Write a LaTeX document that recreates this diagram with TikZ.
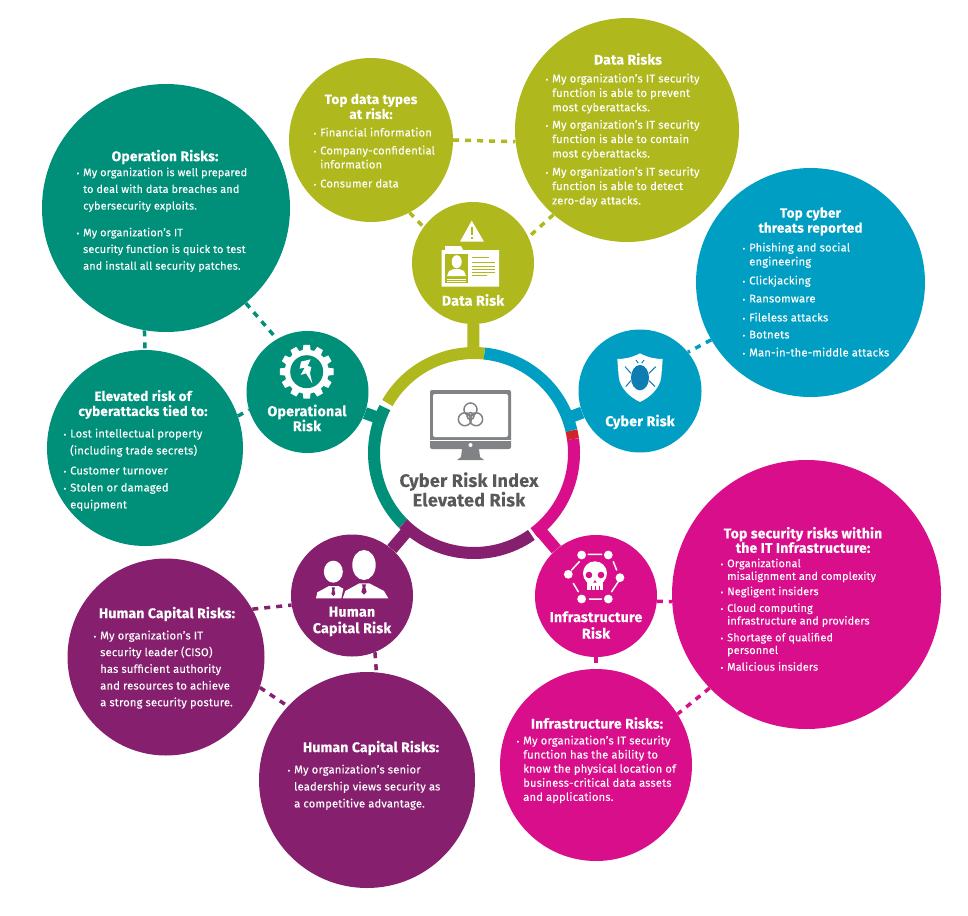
\documentclass[tikz,border=0pt]{standalone}
\usepackage{fontspec}
\setmainfont[LetterSpace=1.5,FakeBold=0.12,BoldFeatures={FakeBold=0.25}]{Fira Sans}
\definecolor{olv}{HTML}{AFB91E}
\definecolor{blu}{HTML}{009EC2}
\definecolor{tea}{HTML}{00907A}
\definecolor{pur}{HTML}{861F6E}
\definecolor{mag}{HTML}{D90E8A}
\definecolor{rdd}{HTML}{D2232A}
\definecolor{gry}{HTML}{808285}
\definecolor{dgr}{HTML}{58595B}
\definecolor{bug}{HTML}{0D7DB3}
\newcommand{\bl}{\llap{{\fontsize{8}{8}\selectfont\textbullet}\hspace{4pt}}}
\tikzset{
  disc/.style={circle,inner sep=0pt,minimum size=#1,draw=none},
  body/.style={anchor=north west,inner sep=0pt,text=white,align=left,font=\fontsize{11.2}{#1}\selectfont},
  bodys/.style={anchor=north west,inner sep=0pt,text=white,align=left,font=\fontsize{10.85}{#1}\selectfont},
  head/.style={inner sep=0pt,text=white,align=center,font=\bfseries\fontsize{13.9}{#1}\selectfont},
  heads/.style={inner sep=0pt,text=white,align=center,font=\bfseries\fontsize{13.4}{#1}\selectfont},
  lab/.style={inner sep=0pt,text=white,align=center,font=\bfseries\fontsize{14.2}{#1}\selectfont},
  ringarc/.style={line width=12pt,line cap=butt},
  stub/.style={line width=12pt,line cap=butt},
  dot/.style={line width=3.5pt,dash pattern=on 6pt off 6pt},
  zoomed/.style={x=0.3333pt,y=-0.3333pt},
}
\begin{document}
\begin{tikzpicture}[x=1pt,y=-1pt]
\useasboundingbox (0,0) rectangle (968,915);
% hub and risk discs
\node[disc=200pt] (hub) at (474,453) {};
\node[disc=122pt,fill=olv] (dr) at (473,263) {};
\node[disc=123pt,fill=blu] (cr) at (640,391) {};
\node[disc=122pt,fill=tea] (or) at (307.5,392) {};
\node[disc=122pt,fill=pur] (hr) at (352,595.5) {};
\node[disc=122pt,fill=mag] (ir) at (596,596) {};
% outer discs
\node[disc=164pt,fill=olv] (types) at (371,140) {};
\node[disc=224pt,fill=olv] (drs) at (627,130) {};
\node[disc=229pt,fill=blu] (thr) at (810.5,282.5) {};
\node[disc=248pt,fill=tea] (ops) at (166,208) {};
\node[disc=196pt,fill=tea] (ele) at (145,448) {};
\node[disc=197pt,fill=pur] (hc1) at (166,657) {};
\node[disc=216pt,fill=pur] (hc2) at (367,780) {};
\node[disc=192pt,fill=mag] (irs) at (596,765) {};
\node[disc=269pt,fill=mag] (sec) at (806.5,594.5) {};
% ring
\draw[ringarc,olv] (hub.center) ++(84:100pt) arc[start angle=84,end angle=150,radius=100pt];
\draw[ringarc,tea] (hub.center) ++(153:100pt) arc[start angle=153,end angle=225,radius=100pt];
\draw[ringarc,pur] (hub.center) ++(225:100pt) arc[start angle=225,end angle=305,radius=100pt];
\draw[ringarc,mag] (hub.center) ++(307:100pt) arc[start angle=307,end angle=368,radius=100pt];
\draw[ringarc,rdd] (hub.center) ++(368:100pt) arc[start angle=368,end angle=373,radius=100pt];
\draw[ringarc,blu] (hub.center) ++(373:100pt) arc[start angle=373,end angle=444,radius=100pt];
% stubs
\draw[stub,olv] (dr) -- (hub);
\draw[stub,blu] (cr) -- (hub);
\draw[stub,tea] (or) -- (hub);
\draw[stub,pur] (hr) -- (hub);
\draw[stub,mag] (ir) -- (hub);
% dashed connectors
\draw[dot,olv] (types.0) -- (drs.186);
\draw[dot,olv] (types.-62) -- (dr.144);
\draw[dot,olv] (drs.-131) -- (dr.25);
\draw[dot,blu] (thr.-150) -- (cr.39);
\draw[dot,tea] (ops.-50) -- (or.120);
\draw[dot,tea] (ops.-100) -- (ele.90);
\draw[dot,tea] (ele.19) -- (or.197);
\draw[dot,pur] (hc1.29) -- (hr.189);
\draw[dot,pur] (hc1.-18) -- (hc2.137);
\draw[dot,pur] (hr.-68) -- (hc2.85);
\draw[dot,mag] (ir.-5) -- (sec.183);
\draw[dot,mag] (ir.-90) -- (irs.90);
\draw[dot,mag] (sec.224) -- (irs.32);
% monitor
\fill[gry,rounded corners=2pt] (430,390) rectangle (511,449);
\fill[white,rounded corners=2pt] (433,394) rectangle (508,437);
\fill[white] (430,439.5) rectangle (511,440.5);
\fill[white] (470.5,445) circle[radius=2pt];
\fill[gry] (462,449) -- (479,449) -- (480,457) -- (484,460) -- (457,460) -- (461,457) -- cycle;
\begin{scope}[shift={(470.5,416)}]
  \foreach \a in {90,210,330} {\draw[gry,line width=1.5pt] (\a:6.5pt) circle[radius=6.5pt];}
  \draw[gry,line width=1.5pt] (0,0) circle[radius=3.5pt];
\end{scope}
% warning and ID card
\fill[white] (471.7,220.7) -- (484,241.7) -- (460,241.7) -- cycle;
\fill[olv] (471,227) rectangle (473,235);
\fill[olv] (471,236.5) rectangle (473,239);
\fill[white] (445,246) -- (461,246) -- (463,250) -- (499,250) -- (499,286.7) -- (441.7,286.7) -- (441.7,250) -- (445,250) -- cycle;
\fill[olv] (445,254) rectangle (468,283);
\fill[white] (456.7,261.7) ellipse[x radius=5pt,y radius=6.5pt];
\fill[white] (447,276) -- (449,271) -- (454,269) -- (459,269) -- (464,271) -- (466,276) -- cycle;
\fill[white] (447,278.5) rectangle (466,279.3);
\fill[white] (447,280.8) rectangle (466,281.6);
\foreach \yy/\xe in {257/489,262/495,265.5/495,269/495,272/495,275/487} {\fill[olv] (472,\yy) rectangle (\xe,\yy+1);}
% gear and bolt
\begin{scope}[shift={(306.7,371.7)}]
  \fill[white] (0,0) circle[radius=22pt];
  \foreach \a in {0,30,...,330} {\fill[white] (\a-11:21pt) -- (\a-7:27pt) -- (\a+7:27pt) -- (\a+11:21pt) -- cycle;}
  \fill[tea] (0,0) circle[radius=16.5pt];
\end{scope}
\begin{scope}[shift={(230,290)},zoomed]
  \fill[white] (213,215) -- (242,208) -- (233,228) -- (244,231) -- (240,250) -- (247,280) -- (228,250) -- (212,255) -- (224,233) -- (209,236) -- cycle;
\end{scope}
% shield and bug
\begin{scope}[shift={(570,190)},zoomed]
  \fill[white] (210,490) .. controls (185,503) and (165,507) .. (142,507) -- (146,560) .. controls (150,595) and (180,622) .. (210,636) .. controls (240,622) and (270,595) .. (274,560) -- (278,507) .. controls (255,507) and (235,503) .. (210,490) -- cycle;
  \fill[bug] (210,563) ellipse[x radius=9pt,y radius=12.7pt];
  \draw[bug,line width=1pt] (165,530) -- (183,550) (257,530) -- (237,550) (167,590) -- (183,572) (255,590) -- (237,572) (198,510) -- (205,520) (222,510) -- (215,520);
\end{scope}
% people
\begin{scope}[shift={(280,530)},zoomed]
  \fill[white] (160,125) ellipse[x radius=9.5pt,y radius=11pt];
  \fill[white] (252,105) ellipse[x radius=11.7pt,y radius=15pt];
  \fill[white] (108,205) -- (112,187) -- (147,168) -- (175,168) -- (190,176) -- (184,205) -- cycle;
  \fill[white] (188,205) -- (196,183) -- (238,160) -- (268,160) -- (312,183) -- (325,205) -- cycle;
  \fill[pur] (155,172) -- (165,172) -- (163,180) -- (166,192) -- (160,198) -- (154,192) -- (157,180) -- cycle;
  \fill[pur] (246,163) -- (258,163) -- (256,172) -- (260,186) -- (252,194) -- (244,186) -- (248,172) -- cycle;
\end{scope}
% skull network
\begin{scope}[shift={(280,530)},zoomed]
  \foreach \p in {(905,75),(985,75),(865,133),(1020,143),(905,207),(985,207)} {\fill[white] \p circle[radius=4.4pt];}
  \draw[white,line width=1.5pt,line cap=round] (925,73) -- (965,73) (1000,95) -- (1010,120) (1015,155) -- (995,185) (965,207) -- (928,207) (895,185) -- (880,160) (875,120) -- (898,95);
  \fill[white] (945,130) circle[radius=12pt];
  \fill[white] (922,150) rectangle (968,180);
  \fill[mag] (927,135) circle[radius=3.3pt];
  \fill[mag] (963,135) circle[radius=3.3pt];
  \fill[mag] (945,150) -- (950,158) -- (940,158) -- cycle;
  \foreach \xx in {933,945,957} {\fill[mag] (\xx,168) rectangle (\xx+1.5,180);}
\end{scope}
% labels in risk discs
\node[lab=14.5] (ldr) at (473,300) {Data Risk};
\node[lab=14.5] (lcr) at (640,422) {Cyber Risk};
\node[lab=15] (lor) at (307,418) {Operational\\Risk};
\node[lab=16.5] (lhr) at (352,621.5) {Human\\Capital Risk};
\node[lab=16.5] (lir) at (596,625) {Infrastructure\\Risk};
\node[inner sep=0pt,text=dgr,align=center,font=\bfseries\fontsize{18}{19.5}\selectfont] (lhub) at (469,489.5) {Cyber Risk Index\\Elevated Risk};
% text of outer discs
\node[heads=15] (h1) at (371,106.5) {Top data types\\at risk:};
\node[body=14] (t1) at (320,127.5) {\bl Financial information\\[4pt]\bl Company-confidential\\information\\[5pt]\bl Consumer data};
\node[head=15] (h2) at (628,59) {Data Risks};
\node[body=14.4] (t2) at (552,73.5) {\bl My organization’s IT security\\function is able to prevent\\most cyberattacks.\\[3pt]\bl My organization’s IT security\\function is able to contain\\most cyberattacks.\\[3.8pt]\bl My organization’s IT security\\function is able to detect\\zero-day attacks.};
\node[heads=15] (h3) at (810.5,221.5) {Top cyber\\threats reported};
\node[body=14] (t3) at (749,242.5) {\bl Phishing and social\\engineering\\[5pt]\bl Clickjacking\\[4pt]\bl Ransomware\\[5pt]\bl Fileless attacks\\[3pt]\bl Botnets\\[4pt]\bl Man-in-the-middle attacks};
\node[head=15] (h4) at (165,157) {Operation Risks:};
\node[bodys=16.7] (t4) at (83,167.5) {\bl My organization is well prepared\\to deal with data breaches and\\cybersecurity exploits.\\[10pt]\bl My organization’s IT\\security function is quick to test\\and install all security patches.};
\node[heads=15] (h5) at (143,404.5) {Elevated risk of\\cyberattacks tied to:};
\node[body=17] (t5) at (70,428.5) {\bl Lost intellectual property\\(including trade secrets)\\[3pt]\bl Customer turnover\\\bl Stolen or damaged\\equipment};
\node[head=15] (h6) at (167,614) {Human Capital Risks:};
\node[body=16.7] (t6) at (100,630.5) {\bl My organization’s IT\\security leader (CISO)\\has sufficient authority\\and resources to achieve\\a strong security posture.};
\node[head=15] (h7) at (371,748) {Human Capital Risks:};
\node[body=17] (t7) at (294,764.5) {\bl My organization’s senior\\leadership views security as\\a competitive advantage.};
\node[head=15] (h8) at (597,723) {Infrastructure Risks:};
\node[body=14.1] (t8) at (523,735.5) {\bl My organization’s IT security\\function has the ability to\\know the physical location of\\business-critical data assets\\and applications.};
\node[head=14.5] (h9) at (803,540) {Top security risks within\\the IT Infrastructure:};
\node[bodys=12.7] (t9) at (727,558.5) {\bl Organizational\\misalignment and complexity\\[2.6pt]\bl Negligent insiders\\[4pt]\bl Cloud computing\\infrastructure and providers\\[4pt]\bl Shortage of qualified\\personnel\\[4pt]\bl Malicious insiders};
\end{tikzpicture}
\end{document}
